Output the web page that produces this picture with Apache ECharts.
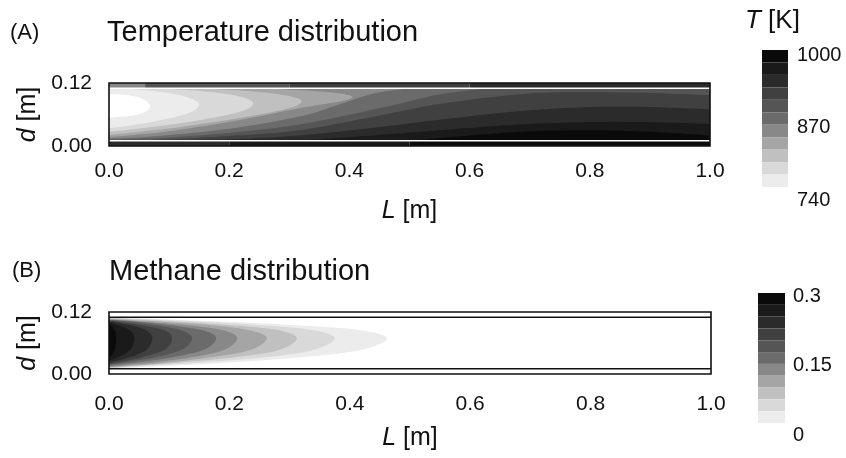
<!DOCTYPE html>
<html>
<head>
<meta charset="utf-8">
<script src="https://cdn.jsdelivr.net/npm/echarts@6/dist/echarts.min.js"></script>
<style>
  html, body { margin: 0; padding: 0; background: #ffffff; }
  #chart { width: 846px; height: 458px; }
</style>
</head>
<body>
<div id="chart"></div>
<script>
// ---- tick labels ----
const xTickLabels = ['0.0', '0.2', '0.4', '0.6', '0.8', '1.0'];
const yTickLabels = ['0.00', '0.12'];
const temperatureBarLabels = ['740', '870', '1000'];
const methaneBarLabels = ['0', '0.15', '0.3'];

// ---- tube geometry [m] ----
const tubeLength = 1.0;
const tubeDiameter = 0.12;
const wallThickness = 0.01;

// ---- contour levels (lower bound of each filled band) ----
const temperatureLevels = [740, 763.6, 787.3, 810.9, 834.5, 858.2, 881.8, 905.5, 929.1, 952.7, 976.4];
const temperatureMax = 1000;
const methaneLevels = [0, 0.0273, 0.0545, 0.0818, 0.1091, 0.1364, 0.1636, 0.1909, 0.2182, 0.2455, 0.2727];
const methaneMax = 0.3;
const bandColors = ['#ececec', '#d9d9d9', '#c0c0c0', '#a5a5a5', '#888888', '#6b6b6b',
                    '#555555', '#404040', '#2b2b2b', '#1a1a1a', '#0a0a0a'];

// ---- temperature isolines, [L, d] points; hotter side lies to the left of travel ----
const temperatureIsolines = [
  [[0, 0.099], [0.03, 0.097], [0.055, 0.09], [0.068, 0.078], [0.062, 0.066], [0.04, 0.058], [0, 0.054]],
  [[0.02, 0.11], [0.08, 0.104], [0.125, 0.095], [0.15, 0.08], [0.135, 0.064], [0.09, 0.05], [0.04, 0.04], [0, 0.034]],
  [[0.08, 0.11], [0.16, 0.104], [0.215, 0.095], [0.24, 0.082], [0.22, 0.066], [0.15, 0.049], [0.07, 0.036], [0, 0.027]],
  [[0.15, 0.11], [0.24, 0.104], [0.295, 0.096], [0.32, 0.086], [0.3, 0.072], [0.22, 0.054], [0.11, 0.035], [0, 0.021]],
  [[0.25, 0.11], [0.34, 0.105], [0.39, 0.099], [0.405, 0.093], [0.385, 0.085], [0.317, 0.072], [0.22, 0.05], [0.1, 0.028], [0, 0.017]],
  [[0.5, 0.11], [0.44, 0.1], [0.38, 0.078], [0.317, 0.056], [0.2, 0.033], [0.08, 0.019], [0, 0.014]],
  [[0.63, 0.11], [0.55, 0.098], [0.45, 0.072], [0.317, 0.041], [0.2, 0.025], [0.08, 0.015], [0, 0.012]],
  [[1, 0.097], [0.85, 0.102], [0.7, 0.1], [0.55, 0.08], [0.45, 0.058], [0.317, 0.03], [0.2, 0.019], [0.08, 0.012], [0, 0.0105]],
  [[1, 0.07], [0.85, 0.075], [0.7, 0.068], [0.55, 0.05], [0.45, 0.036], [0.317, 0.02], [0.2, 0.013], [0.1, 0.01]],
  [[1, 0.042], [0.85, 0.046], [0.7, 0.042], [0.55, 0.03], [0.45, 0.021], [0.35, 0.013], [0.28, 0.01]],
  [[1, 0.02], [0.9, 0.027], [0.8, 0.03], [0.7, 0.028], [0.6, 0.02], [0.52, 0.012], [0.48, 0.01]]
];

// ---- wall temperatures: [L from, L to, T] ----
const temperatureWallTop = [[0, 0.06, 850], [0.06, 0.3, 895], [0.3, 0.6, 920], [0.6, 1, 945]];
const temperatureWallBottom = [[0, 0.2, 930], [0.2, 0.5, 955], [0.5, 1, 980]];

// ---- methane isolines (mole fraction), higher side lies to the left of travel ----
const methaneIsolines = [
  [[0, 0.0105], [0.154, 0.019], [0.305, 0.031], [0.416, 0.046], [0.462, 0.069], [0.416, 0.085], [0.305, 0.095], [0.154, 0.103], [0, 0.1095]],
  [[0, 0.011], [0.125, 0.020], [0.248, 0.031], [0.338, 0.046], [0.375, 0.069], [0.338, 0.085], [0.248, 0.095], [0.125, 0.103], [0, 0.109]],
  [[0, 0.012], [0.104, 0.021], [0.206, 0.032], [0.281, 0.046], [0.312, 0.069], [0.281, 0.085], [0.206, 0.094], [0.104, 0.102], [0, 0.108]],
  [[0, 0.013], [0.088, 0.021], [0.173, 0.033], [0.236, 0.047], [0.262, 0.069], [0.236, 0.084], [0.173, 0.094], [0.088, 0.101], [0, 0.107]],
  [[0, 0.014], [0.071, 0.022], [0.141, 0.033], [0.192, 0.047], [0.213, 0.069], [0.192, 0.084], [0.141, 0.093], [0.071, 0.100], [0, 0.106]],
  [[0, 0.016], [0.059, 0.024], [0.117, 0.035], [0.160, 0.048], [0.178, 0.069], [0.160, 0.083], [0.117, 0.092], [0.059, 0.100], [0, 0.105]],
  [[0, 0.018], [0.046, 0.026], [0.091, 0.036], [0.124, 0.049], [0.138, 0.069], [0.124, 0.083], [0.091, 0.092], [0.046, 0.099], [0, 0.104]],
  [[0, 0.020], [0.035, 0.027], [0.069, 0.037], [0.095, 0.049], [0.105, 0.069], [0.095, 0.083], [0.069, 0.091], [0.035, 0.098], [0, 0.103]],
  [[0, 0.022], [0.024, 0.029], [0.048, 0.038], [0.065, 0.050], [0.072, 0.069], [0.065, 0.082], [0.048, 0.091], [0.024, 0.097], [0, 0.102]],
  [[0, 0.025], [0.014, 0.032], [0.028, 0.040], [0.038, 0.051], [0.042, 0.069], [0.038, 0.081], [0.028, 0.089], [0.014, 0.095], [0, 0.100]],
  [[0, 0.030], [0.004, 0.036], [0.008, 0.044], [0.011, 0.053], [0.012, 0.069], [0.011, 0.080], [0.008, 0.087], [0.004, 0.093], [0, 0.097]]
];

// ---------------------------------------------------------------
const FONT = "'Liberation Sans', Arial, Helvetica, sans-serif";
const D0 = wallThickness, D1 = tubeDiameter - wallThickness;
const corners = [[0, D0], [tubeLength, D0], [tubeLength, D1], [0, D1]];

// position along the inner boundary, counter-clockwise from the lower-left corner
function perimeterPos(p) {
  const x = p[0], d = p[1], e = 1e-6;
  if (Math.abs(d - D0) < e) return x / tubeLength;
  if (Math.abs(x - tubeLength) < e) return 1 + (d - D0) / (D1 - D0);
  if (Math.abs(d - D1) < e) return 2 + (tubeLength - x) / tubeLength;
  return 3 + (D1 - d) / (D1 - D0);
}
function closingCorners(from, to) {
  const s0 = perimeterPos(from);
  let s1 = perimeterPos(to);
  if (s1 <= s0) s1 += 4;
  const out = [];
  for (let c = Math.ceil(s0 + 1e-9); c < s1; c++) out.push(corners[c % 4]);
  return out;
}
// Catmull-Rom smoothing of an isoline in pixel space
function smoothPixels(pts) {
  if (pts.length < 3) return pts.slice();
  const out = [pts[0]];
  for (let i = 0; i < pts.length - 1; i++) {
    const p0 = pts[i - 1] || pts[i], p1 = pts[i], p2 = pts[i + 1], p3 = pts[i + 2] || pts[i + 1];
    const c1 = [p1[0] + (p2[0] - p0[0]) / 6, p1[1] + (p2[1] - p0[1]) / 6];
    const c2 = [p2[0] - (p3[0] - p1[0]) / 6, p2[1] - (p3[1] - p1[1]) / 6];
    for (let k = 1; k <= 10; k++) {
      const t = k / 10, u = 1 - t;
      out.push([
        u * u * u * p1[0] + 3 * u * u * t * c1[0] + 3 * u * t * t * c2[0] + t * t * t * p2[0],
        u * u * u * p1[1] + 3 * u * u * t * c1[1] + 3 * u * t * t * c2[1] + t * t * t * p2[1]
      ]);
    }
  }
  return out;
}
function contourRenderer(isolines) {
  return function (params, api) {
    const line = isolines[api.value(1)];
    const pts = smoothPixels(line.map(p => api.coord(p)));
    closingCorners(line[line.length - 1], line[0]).forEach(c => pts.push(api.coord(c)));
    return { type: 'polygon', shape: { points: pts }, style: { fill: api.visual('color'), stroke: null } };
  };
}
function wallRenderer(params, api) {
  const top = api.value(3) === 1;
  const a = api.coord([api.value(1), top ? tubeDiameter : D0]);
  const b = api.coord([api.value(2), top ? D1 : 0]);
  return { type: 'rect', shape: { x: a[0], y: a[1], width: b[0] - a[0], height: b[1] - a[1] },
           style: { fill: api.visual('color') } };
}
function frameRenderer(innerColor, wallFill) {
  return function (params, api) {
    const o0 = api.coord([0, tubeDiameter]), o1 = api.coord([tubeLength, 0]);
    const iTop = api.coord([0, D1])[1], iBot = api.coord([0, D0])[1];
    const children = [];
    if (wallFill) {
      children.push({ type: 'rect', shape: { x: o0[0], y: o0[1], width: o1[0] - o0[0], height: iTop - o0[1] }, style: { fill: wallFill } });
      children.push({ type: 'rect', shape: { x: o0[0], y: iBot, width: o1[0] - o0[0], height: o1[1] - iBot }, style: { fill: wallFill } });
    }
    children.push({ type: 'line', shape: { x1: o0[0], y1: iTop, x2: o1[0], y2: iTop }, style: { stroke: innerColor, lineWidth: 1.5 } });
    children.push({ type: 'line', shape: { x1: o0[0], y1: iBot, x2: o1[0], y2: iBot }, style: { stroke: innerColor, lineWidth: 1.5 } });
    children.push({ type: 'rect', shape: { x: o0[0], y: o0[1], width: o1[0] - o0[0], height: o1[1] - o0[1] },
                    style: { fill: null, stroke: '#111111', lineWidth: 1.6 } });
    return { type: 'group', children: children };
  };
}
function pieces(levels, max) {
  return levels.map((v, i) => i < levels.length - 1
    ? { gte: v, lt: levels[i + 1], color: bandColors[i] }
    : { gte: v, lte: max, color: bandColors[i] });
}

const labelStyle = { fontFamily: FONT, fontSize: 21, color: '#111111' };
const nameStyle = { fontFamily: FONT, fontSize: 25, color: '#111111', rich: { i: { fontFamily: FONT, fontSize: 25, fontStyle: 'italic', color: '#111111' } } };

function fieldXAxis(gridIndex, margin, nameGap) {
  return {
    type: 'value', gridIndex, min: 0, max: tubeLength, interval: 0.2,
    axisLine: { show: false }, axisTick: { show: false }, splitLine: { show: false },
    axisLabel: Object.assign({ margin, formatter: (v, i) => xTickLabels[i] }, labelStyle),
    name: '{i|L} [m]', nameLocation: 'middle', nameGap, nameTextStyle: nameStyle
  };
}
function fieldYAxis(gridIndex) {
  return {
    type: 'value', gridIndex, min: 0, max: tubeDiameter, interval: tubeDiameter,
    axisLine: { show: false }, axisTick: { show: false }, splitLine: { show: false },
    axisLabel: Object.assign({ margin: 17, formatter: (v, i) => yTickLabels[i] }, labelStyle),
    name: '{i|d} [m]', nameLocation: 'middle', nameGap: 67, nameTextStyle: nameStyle
  };
}
function barLabelAxis(gridIndex, labels) {
  return {
    type: 'category', gridIndex, data: labels, boundaryGap: false, position: 'left',
    axisLine: { show: false }, axisTick: { show: false }, splitLine: { show: false },
    axisLabel: Object.assign({ inside: true, margin: 0, interval: 0 }, labelStyle, { fontSize: 20 })
  };
}
const hiddenX = gridIndex => ({ type: 'value', gridIndex, show: false });

const titleStyle = { fontFamily: FONT, fontSize: 29, fontWeight: 'normal', color: '#111111' };
const tagStyle = { fontFamily: FONT, fontSize: 22, fontWeight: 'normal', color: '#111111' };

const option = {
  backgroundColor: '#ffffff',
  animation: false,
  title: [
    { text: '(A)', left: 10, top: 22, padding: 0, textStyle: tagStyle },
    { text: 'Temperature distribution', left: 107, top: 18, padding: 0, textStyle: titleStyle },
    { text: '(B)', left: 12, top: 260, padding: 0, textStyle: tagStyle },
    { text: 'Methane distribution', left: 109, top: 257, padding: 0, textStyle: titleStyle },
    { text: '{i|T} [K]', left: 745, top: 8, padding: 0,
      textStyle: { fontFamily: FONT, fontSize: 26, fontWeight: 'normal', color: '#111111',
                   rich: { i: { fontFamily: FONT, fontSize: 26, fontStyle: 'italic', color: '#111111' } } } }
  ],
  grid: [
    { left: 109, width: 601, top: 83, height: 63 },
    { left: 109, width: 602, top: 312, height: 62 },
    { left: 797, width: 20, top: 55, height: 145 },
    { left: 793, width: 20, top: 296, height: 139 }
  ],
  xAxis: [fieldXAxis(0, 15, 53), fieldXAxis(1, 20, 52), hiddenX(2), hiddenX(3)],
  yAxis: [fieldYAxis(0), fieldYAxis(1), barLabelAxis(2, temperatureBarLabels), barLabelAxis(3, methaneBarLabels)],
  visualMap: [
    { type: 'piecewise', seriesIndex: [0, 1], dimension: 0, pieces: pieces(temperatureLevels, temperatureMax),
      outOfRange: { color: '#ffffff' }, orient: 'vertical', left: 762, top: 50, padding: 0,
      itemWidth: 26, itemHeight: 137 / 11, itemGap: 0, itemSymbol: 'rect', showLabel: false,
      selectedMode: false, hoverLink: false },
    { type: 'piecewise', seriesIndex: [3], dimension: 0, pieces: pieces(methaneLevels, methaneMax),
      outOfRange: { color: '#ffffff' }, orient: 'vertical', left: 758, top: 293, padding: 0,
      itemWidth: 27, itemHeight: 130 / 11, itemGap: 0, itemSymbol: 'rect', showLabel: false,
      selectedMode: false, hoverLink: false }
  ],
  series: [
    { type: 'custom', name: 'Temperature', xAxisIndex: 0, yAxisIndex: 0, z: 2, silent: true,
      data: temperatureLevels.map((v, i) => [v, i]), renderItem: contourRenderer(temperatureIsolines) },
    { type: 'custom', name: 'Wall temperature', xAxisIndex: 0, yAxisIndex: 0, z: 3, silent: true,
      data: temperatureWallBottom.map(w => [w[2], w[0], w[1], 0]).concat(temperatureWallTop.map(w => [w[2], w[0], w[1], 1])),
      renderItem: wallRenderer },
    { type: 'custom', name: 'Tube', xAxisIndex: 0, yAxisIndex: 0, z: 4, silent: true,
      data: [[0]], renderItem: frameRenderer('#ffffff', null) },
    { type: 'custom', name: 'Methane', xAxisIndex: 1, yAxisIndex: 1, z: 2, silent: true,
      data: methaneLevels.map((v, i) => [v, i]), renderItem: contourRenderer(methaneIsolines) },
    { type: 'custom', name: 'Tube', xAxisIndex: 1, yAxisIndex: 1, z: 4, silent: true,
      data: [[0]], renderItem: frameRenderer('#111111', '#ffffff') }
  ]
};

const chart = echarts.init(document.getElementById('chart'), null, { renderer: 'canvas' });
chart.setOption(option);
</script>
</body>
</html>
